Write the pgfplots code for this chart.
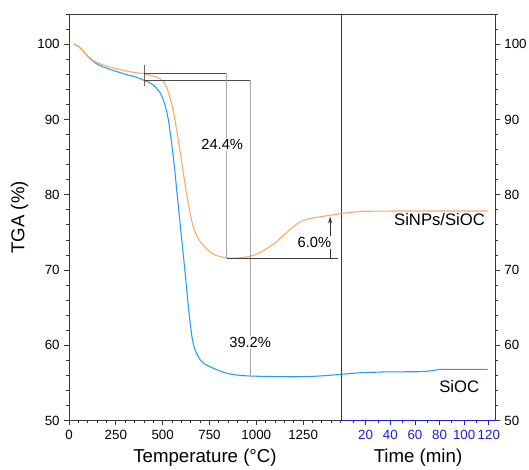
\documentclass[border=0pt]{standalone}
\usepackage{fontspec}
\setmainfont{Liberation Sans}
\usepackage{pgfplots}
\pgfplotsset{compat=1.18}
\usetikzlibrary{arrows.meta}

\definecolor{sioc}{RGB}{35,155,250}
\definecolor{sinp}{RGB}{255,168,100}
\definecolor{timeblue}{RGB}{30,30,210}
\definecolor{axgray}{RGB}{55,55,55}

\pgfplotsset{
  common/.style={
    scale only axis, height=305pt, ymin=50, ymax=104,
    ytick={50,60,...,100}, minor ytick={52,54,...,104},
    tick align=outside, major tick length=3.5pt, minor tick length=2pt,
    axis line style={axgray, line width=0.7pt},
    every tick/.style={axgray, line width=0.6pt},
    tick label style={font=\fontsize{10}{12}\selectfont},
    label style={font=\fontsize{14}{16}\selectfont},
    /pgf/number format/assume math mode=true,
    /pgf/number format/1000 sep={},
  }
}

\begin{document}
\begin{tikzpicture}
% temperature part
\begin{axis}[common, name=temp, width=204pt,
  xmin=0, xmax=1452,
  xtick={0,250,...,1250}, minor xtick={50,100,...,1450},
  xtick pos=bottom, ytick pos=left,
  xlabel={Temperature (°C)}, ylabel={TGA (\%)},
  ]
\addplot[sioc, line width=0.8pt, smooth, tension=0.5] coordinates {
  (25,100.0)(50,99.7)(75,99.1)(100,98.4)(125,97.8)(150,97.35)(180,97.0)
  (219,96.65)(300,96.0)(360,95.6)(400,95.2)(440,94.75)(465,94.2)(485,93.6)
  (500,92.8)(515,91.7)(530,90.0)(545,87.4)(556,85.2)(566,82.9)(584,78.4)
  (602,74.0)(620,69.6)(637,65.2)(648,62.8)(658,60.9)(670,59.6)(684,58.8)
  (700,58.1)(726,57.5)(771,56.95)(842,56.3)(900,56.05)(967,55.93)
  (1100,55.85)(1250,55.84)(1350,55.95)(1452,56.15)
};
\addplot[sinp, line width=0.8pt, smooth, tension=0.5] coordinates {
  (25,100.0)(50,99.7)(75,99.1)(100,98.45)(125,97.9)(150,97.55)(180,97.25)
  (219,96.95)(308,96.42)(360,96.2)(400,96.07)(450,95.75)(486,95.4)(505,95.0)
  (520,94.3)(532,93.5)(545,92.4)(557,91.1)(570,89.3)(584,87.2)(598,85.0)
  (611,82.8)(624,80.7)(637,78.8)(650,77.1)(664,75.7)(685,74.4)(709,73.5)
  (745,72.6)(780,72.0)(842,71.6)(900,71.6)(967,71.84)(1010,72.2)(1056,72.86)
  (1100,73.6)(1145,74.6)(1190,75.6)(1234,76.4)(1280,76.8)(1323,77.0)
  (1400,77.3)(1452,77.5)
};
% step annotations
\draw[black!60, line width=0.6pt] (axis cs:400,94.5) -- (axis cs:400,97.2);
\draw[black!70, line width=0.6pt] (axis cs:400,96.1) -- (axis cs:842,96.1);
\draw[black!70, line width=0.6pt] (axis cs:400,95.2) -- (axis cs:967,95.2);
\draw[black!35, line width=0.6pt] (axis cs:842,96.1) -- (axis cs:842,71.55);
\draw[black!35, line width=0.6pt] (axis cs:967,95.2) -- (axis cs:967,55.93);
\draw[black!75, line width=0.6pt] (axis cs:842,71.55) -- (axis cs:1435,71.55);
\draw[black!80, line width=0.6pt, -{Stealth[length=5pt,width=3pt]}] (axis cs:1394,71.55) -- (axis cs:1394,77.1);
\node[fill=white, inner sep=1pt, font=\fontsize{11}{13}\selectfont] at (axis cs:818,86.7) {24.4\%};
\node[fill=white, inner sep=1pt, font=\fontsize{11}{13}\selectfont] at (axis cs:967,60.4) {39.2\%};
\node[fill=white, inner sep=1pt, font=\fontsize{11}{13}\selectfont] at (axis cs:1310,73.7) {6.0\%};
\end{axis}

% time part
\begin{axis}[common, at={(temp.south east)}, anchor=south west, width=115.5pt,
  xmin=0, xmax=125,
  xtick={20,40,...,120}, minor xtick={10,30,...,110},
  axis x line*=bottom, axis y line*=right,
  x axis line style={timeblue},
  x tick style={timeblue},
  x tick label style={timeblue},
  xlabel={Time (min)},
  ]
\draw[axgray, line width=0.7pt] (rel axis cs:0,0) -- (rel axis cs:0,1) -- (rel axis cs:1,1);
\addplot[sioc, line width=0.8pt] coordinates {
  (0,56.15)(15,56.36)(37,56.48)(64,56.5)(72,56.6)(80,56.8)(119,56.8)
};
\addplot[sinp, line width=0.8pt] coordinates {
  (0,77.5)(10,77.7)(18,77.8)(42,77.84)(119,77.84)
};
\node[font=\fontsize{12.5}{14}\selectfont] at (axis cs:80,76.7) {SiNPs/SiOC};
\node[font=\fontsize{12.5}{14}\selectfont] at (axis cs:96,54.5) {SiOC};
\end{axis}

\pgfresetboundingbox
\path ([shift={(-51.75pt,-37pt)}]temp.south west) rectangle ++(396.75pt,352.5pt);
\end{tikzpicture}
\end{document}
